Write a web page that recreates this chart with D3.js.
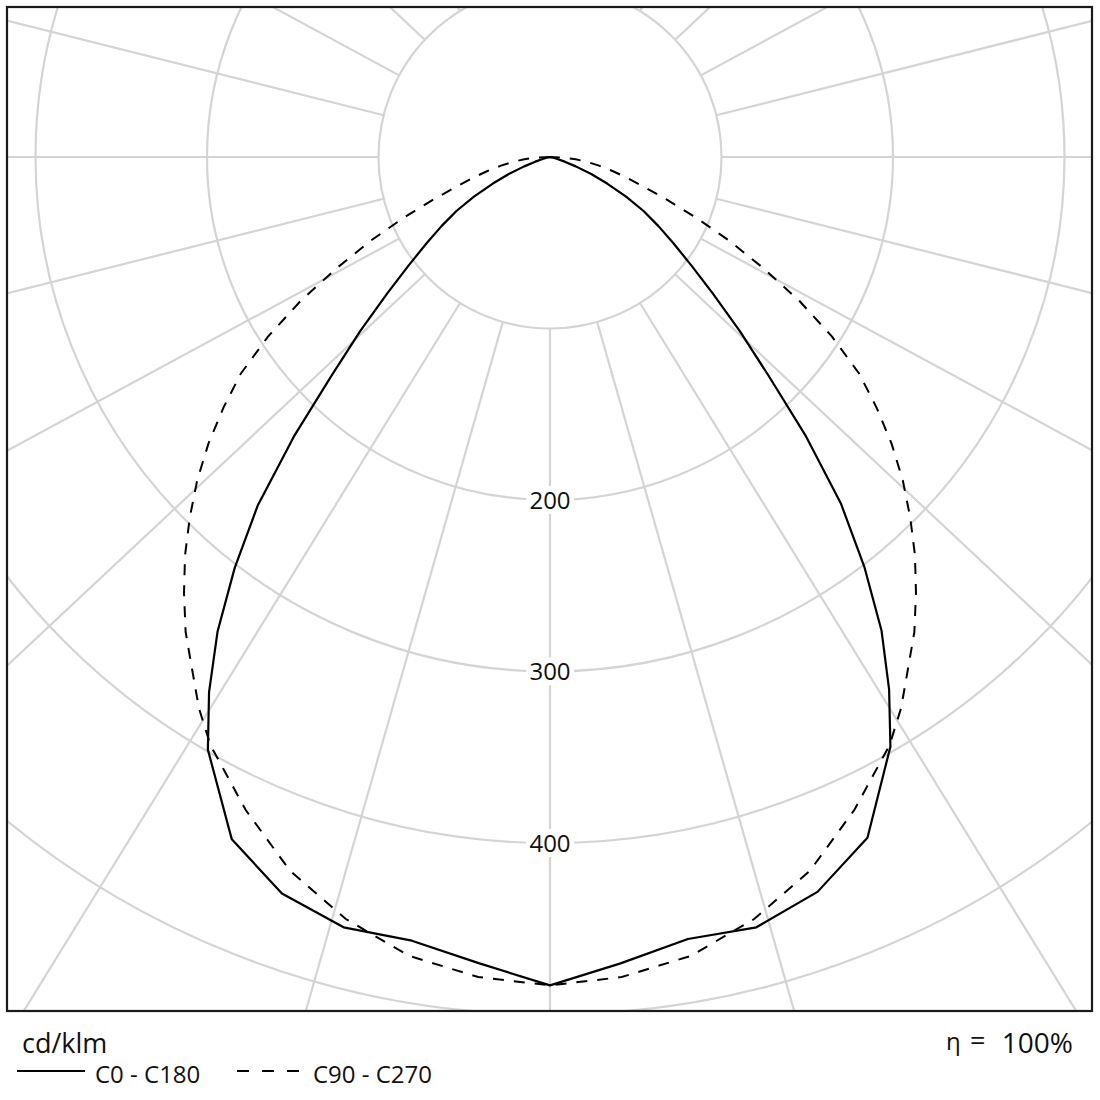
<!DOCTYPE html>
<html>
<head>
<meta charset="utf-8">
<script src="https://cdn.jsdelivr.net/npm/d3@7"></script>
<style>
  html, body { margin: 0; padding: 0; background: #fff; }
  svg { display: block; }
  text { font-family: "Open Sans", "DejaVu Sans", sans-serif; fill: #111; }
</style>
</head>
<body>
<svg id="chart" width="1100" height="1100"></svg>
<script>
// ---- data (cd/klm), gamma measured from nadir ----
const gammaDeg   = [0, 5, 10, 15, 20, 25, 30, 32.5, 35, 37.5, 40, 42.5, 45, 47.5, 50, 52.5, 55, 57.5, 60, 62.5, 65, 67.5, 70, 72.5, 75, 77.5, 80, 82.5, 85, 87.5, 90];
const c0Values   = [483, 472, 463, 465, 456, 438, 397, 368, 337, 301, 264, 221, 180, 150, 124, 104, 88, 75, 63, 50, 37, 26, 16, 9, 4, 2, 1, 0, 0, 0, 0];
const c180Values = [483, 472, 464, 465, 457, 439, 399, 370, 338, 302, 265, 221, 180, 150, 124, 104, 88, 75, 63, 50, 37, 26, 16, 9, 4, 2, 1, 0, 0, 0, 0];
const c90Values  = [483, 480, 473, 460, 443, 420, 396, 381, 364, 349, 332, 315, 297, 279, 260, 240, 220, 195, 168, 140, 115, 92, 72, 57, 46, 37, 29, 22, 15, 8, 0];
const c270Values = [483, 480, 473, 460, 443, 420, 396, 381, 364, 349, 332, 315, 297, 279, 260, 240, 220, 195, 168, 140, 115, 92, 72, 57, 46, 37, 29, 22, 15, 8, 0];
const ringValues = [100, 200, 300, 400, 500];
const tickLabels = [200, 300, 400];
const spokeDeg = d3.range(0, 360, 15);
const seriesNames = ["C0 - C180", "C90 - C270"];
const unitLabel = "cd/klm";
const etaSymbol = "\u03b7";
const etaValue = "100%";

// ---- layout ----
const W = 1100, H = 1100;
const frame = {x: 7, y: 7, w: 1085, h: 1004};
const cx = 550, cy = 157;
const r = d3.scaleLinear().domain([0, 100]).range([0, 171.5]);
const spokeSquash = 0.937;

const svg = d3.select("#chart");
svg.append("rect").attr("width", W).attr("height", H).attr("fill", "#fff");

svg.append("defs").append("clipPath").attr("id", "frameClip")
  .append("rect").attr("x", frame.x).attr("y", frame.y).attr("width", frame.w).attr("height", frame.h);

const plot = svg.append("g").attr("clip-path", "url(#frameClip)");
const g = plot.append("g").attr("transform", `translate(${cx},${cy})`);

const gridColor = "#d4d4d4";
// spokes (start on the first ring)
g.selectAll("line.spoke").data(spokeDeg).join("line")
  .attr("class", "spoke")
  .each(function(d) {
    const a = d * Math.PI / 180;
    let ux = Math.sin(a), uy = spokeSquash * Math.cos(a);
    const n = Math.hypot(ux, uy); ux /= n; uy /= n;
    const r0 = r(ringValues[0]), r1 = r(900);
    d3.select(this)
      .attr("x1", ux * r0).attr("y1", uy * r0)
      .attr("x2", ux * r1).attr("y2", uy * r1);
  })
  .attr("stroke", gridColor).attr("stroke-width", 2.2);

// rings
g.selectAll("circle.ring").data(ringValues).join("circle")
  .attr("class", "ring")
  .attr("r", d => r(d))
  .attr("fill", "none").attr("stroke", gridColor).attr("stroke-width", 2.2);

// curves
function curvePoints(leftVals, rightVals) {
  const pts = [];
  for (let i = gammaDeg.length - 1; i >= 0; i--) pts.push([Math.PI + gammaDeg[i] * Math.PI / 180, r(leftVals[i])]);
  for (let i = 1; i < gammaDeg.length; i++) pts.push([Math.PI - gammaDeg[i] * Math.PI / 180, r(rightVals[i])]);
  return pts;
}
const radial = d3.lineRadial().angle(d => d[0]).radius(d => d[1]).curve(d3.curveLinear);

g.append("path").attr("d", radial(curvePoints(c270Values, c90Values)))
  .attr("fill", "none").attr("stroke", "#000").attr("stroke-width", 2)
  .attr("stroke-dasharray", "11,10");
g.append("path").attr("d", radial(curvePoints(c180Values, c0Values)))
  .attr("fill", "none").attr("stroke", "#000").attr("stroke-width", 2.2)
  .attr("stroke-linejoin", "round");

// tick labels on the nadir axis
const tl = g.selectAll("g.tick").data(tickLabels).join("g")
  .attr("class", "tick").attr("transform", d => `translate(0,${r(d)})`);
tl.append("rect").attr("x", -24).attr("y", -14).attr("width", 48).attr("height", 28).attr("fill", "#fff");
tl.append("text").attr("text-anchor", "middle").attr("dy", "0.36em")
  .attr("font-size", 24).text(d => d);

// frame
svg.append("rect").attr("x", frame.x).attr("y", frame.y).attr("width", frame.w).attr("height", frame.h)
  .attr("fill", "none").attr("stroke", "#1a1a1a").attr("stroke-width", 2.2);

// bottom texts
svg.append("text").attr("x", 22).attr("y", 1053).attr("font-size", 27).text(unitLabel);
svg.append("text").attr("x", 946).attr("y", 1050).attr("font-size", 24).attr("fill", "#333").text(etaSymbol);
svg.append("text").attr("x", 970).attr("y", 1050).attr("font-size", 27).attr("fill", "#333").text("=");
svg.append("text").attr("x", 1073).attr("y", 1053).attr("text-anchor", "end").attr("font-size", 28).text(etaValue);

// legend
const legend = svg.append("g");
legend.append("line").attr("x1", 17).attr("x2", 85).attr("y1", 1071).attr("y2", 1071)
  .attr("stroke", "#000").attr("stroke-width", 2);
legend.append("text").attr("x", 95).attr("y", 1083).attr("font-size", 24).text(seriesNames[0]);
legend.append("line").attr("x1", 237).attr("x2", 299).attr("y1", 1071).attr("y2", 1071)
  .attr("stroke", "#000").attr("stroke-width", 2).attr("stroke-dasharray", "12,13");
legend.append("text").attr("x", 313).attr("y", 1083).attr("font-size", 24).text(seriesNames[1]);
</script>
</body>
</html>
